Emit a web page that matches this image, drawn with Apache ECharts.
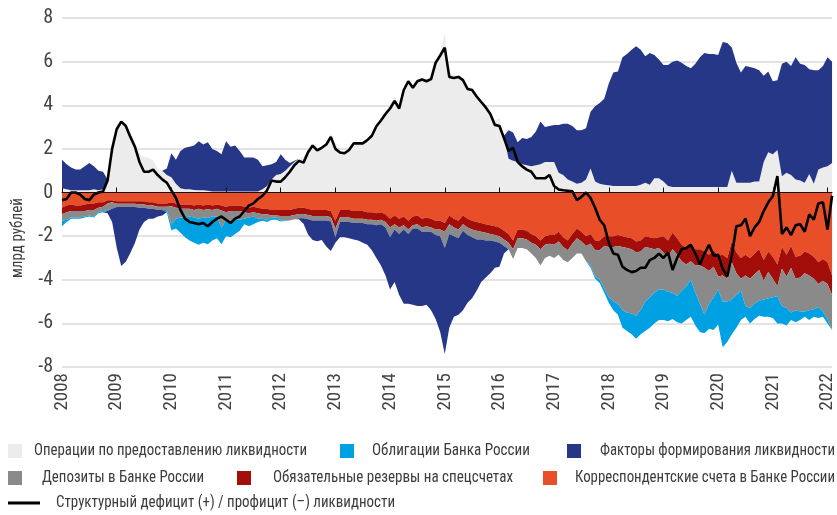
<!DOCTYPE html>
<html><head><meta charset="utf-8">
<script src="https://cdn.jsdelivr.net/npm/echarts@6/dist/echarts.min.js"></script>
<style>html,body{margin:0;padding:0;background:#fff}#c{width:837px;height:515px}</style>
</head><body><div id="c"></div>
<script>
// ---- data (monthly, starting January 2008) ----
const startYear = 2008;
const monthCount = 170;
const yTicks = [-8,-6,-4,-2,0,2,4,6,8];

// Structural deficit (+) / surplus (-)
const deficit = [
 -0.35,-0.3,0.0,0.0,-0.1,-0.3,-0.35,-0.1,0.0,0.05,0.55,2.0,
 2.9,3.25,3.05,2.55,2.1,1.4,0.95,0.95,1.05,0.8,0.6,0.45,
 0.1,-0.25,-0.8,-1.2,-1.35,-1.4,-1.45,-1.4,-1.55,-1.35,-1.2,-1.1,
 -1.25,-1.4,-1.2,-1.1,-0.85,-0.6,-0.5,-0.3,-0.15,0.1,0.55,0.5,
 0.5,0.7,0.95,1.25,1.45,1.37,1.85,2.15,1.93,2.05,2.2,2.55,
 2.0,1.83,1.8,1.95,2.25,2.25,2.25,2.4,2.6,3.04,3.3,3.6,
 3.85,4.2,3.85,4.7,5.1,4.8,5.1,5.18,5.1,5.2,5.95,6.28,
 6.64,5.3,5.25,5.3,5.15,4.75,4.7,4.4,4.15,3.9,3.6,3.1,
 3.05,2.5,1.9,2.05,1.4,1.2,1.05,0.95,0.65,0.65,0.65,0.8,
 0.3,0.14,0.1,0.08,0.05,-0.35,-0.2,0.0,-0.25,-0.7,-1.25,-1.5,
 -2.3,-2.8,-2.85,-3.4,-3.55,-3.65,-3.6,-3.45,-3.45,-3.1,-3.0,-2.8,
 -3.0,-2.75,-3.55,-3.0,-2.6,-2.55,-2.4,-2.8,-3.3,-2.8,-2.4,-2.9,
 -2.85,-3.5,-3.84,-2.9,-1.55,-1.5,-1.2,-2.0,-1.6,-1.35,-0.85,-0.45,
 -0.17,0.75,-1.9,-1.6,-1.95,-1.5,-1.45,-1.8,-1.0,-1.25,-0.5,-0.45,
 -1.7,-0.15
];
// Liquidity provision operations
const liquidityOps = [
 0.2,0.15,0.1,0.1,0.1,0.1,0.1,0.15,0.1,0.15,0.6,2.05,
 2.95,3.25,3.1,2.75,2.3,1.8,1.6,1.6,1.45,1.1,1.0,0.8,
 0.7,0.4,0.2,0.15,0.15,0.12,0.1,0.1,0.08,0.05,0.05,0.05,
 0.05,0.05,0.05,0.05,0.05,0.05,0.05,0.05,0.15,0.3,0.6,0.8,
 0.85,1.0,1.2,1.4,1.55,1.6,1.95,2.25,2.05,2.1,2.3,2.7,
 2.3,1.9,1.85,2.0,2.3,2.3,2.3,2.45,2.7,3.1,3.4,3.7,
 4.05,4.4,3.95,4.8,5.2,4.9,5.2,5.25,5.2,5.3,6.0,6.4,
 7.3,5.5,5.4,5.4,5.25,4.85,4.8,4.5,4.25,4.0,3.75,3.3,
 3.4,2.6,1.55,1.45,1.4,1.3,1.25,1.2,1.25,1.3,1.4,1.4,
 1.4,0.9,0.8,0.6,0.5,0.4,0.45,0.6,1.1,0.5,0.4,0.35,
 0.33,0.3,0.3,0.3,0.3,0.3,0.3,0.35,0.45,0.35,0.65,0.65,
 0.5,0.3,0.25,0.25,0.25,0.25,0.25,0.25,0.25,0.25,0.25,0.25,
 0.25,0.25,0.25,1.0,0.45,0.45,0.45,0.45,0.5,0.5,1.4,1.85,
 1.75,1.95,0.75,0.9,0.8,0.6,0.55,0.45,0.85,0.4,1.05,1.15,
 1.2,1.35
];
// Liquidity factors (signed)
const liquidityFactors = [
 1.3,1.15,1.05,0.95,0.95,1.1,1.25,1.05,0.9,0.8,-0.1,-0.6,
 -1.85,-2.7,-2.5,-2.1,-1.65,-1.0,-0.65,-0.45,-0.45,-0.3,-0.25,0.3,
 1.1,1.1,1.7,1.9,1.95,2.03,2.25,2.1,2.22,1.95,1.85,1.7,
 2.3,2.05,2.1,1.85,1.55,1.55,1.55,1.45,1.05,0.95,0.7,0.6,
 0.9,0.5,0.15,0.05,-0.05,-0.25,-0.7,-0.9,-0.95,-0.9,-1.2,-1.35,
 -0.25,-0.7,-0.7,-0.75,-0.75,-0.8,-0.9,-0.95,-1.2,-1.5,-1.9,-2.2,
 -2.4,-2.4,-2.8,-3.4,-3.2,-3.5,-3.55,-3.4,-3.35,-3.6,-3.85,-4.4,
 -4.85,-4.3,-3.7,-3.5,-3.65,-3.1,-2.8,-2.35,-1.95,-1.7,-1.5,-1.2,
 -1.1,-0.35,1.3,1.3,0.9,1.2,1.2,1.35,1.55,1.95,1.6,1.65,
 1.7,2.2,2.35,2.55,2.55,2.45,2.4,2.35,2.6,3.45,3.7,3.95,
 4.67,5.2,5.25,5.9,6.05,6.25,6.4,6.2,5.8,6.05,5.65,5.45,
 5.35,5.55,5.75,5.8,5.7,5.55,5.45,5.65,5.95,6.15,6.1,6.1,
 6.05,6.65,6.6,5.65,5.5,5.05,5.35,5.3,5.2,5.1,3.95,3.7,
 3.35,3.2,5.15,5.1,5.0,5.6,5.35,5.4,4.8,5.2,4.55,4.65,
 5.0,4.65
];
// Correspondent accounts
const corrAccounts = [
 -0.7,-0.6,-0.55,-0.6,-0.6,-0.55,-0.5,-0.5,-0.45,-0.45,-0.35,-0.35,
 -0.4,-0.4,-0.4,-0.4,-0.4,-0.4,-0.4,-0.45,-0.45,-0.5,-0.5,-0.5,
 -0.45,-0.5,-0.55,-0.55,-0.55,-0.6,-0.55,-0.6,-0.55,-0.6,-0.55,-0.6,
 -0.65,-0.6,-0.6,-0.6,-0.65,-0.7,-0.65,-0.7,-0.75,-0.75,-0.8,-0.8,
 -0.8,-0.8,-0.8,-0.75,-0.7,-0.7,-0.75,-0.8,-0.8,-0.8,-0.8,-0.85,
 -1.3,-0.8,-0.8,-0.8,-0.85,-0.85,-0.85,-0.9,-0.9,-0.95,-0.9,-1.0,
 -1.2,-1.05,-1.2,-1.1,-1.3,-1.1,-1.05,-1.2,-1.15,-1.2,-1.3,-1.3,
 -1.4,-1.05,-1.2,-1.3,-1.05,-1.2,-1.3,-1.35,-1.4,-1.45,-1.5,-1.55,
 -1.6,-1.75,-1.9,-2.2,-1.7,-1.7,-1.75,-1.9,-2.0,-2.2,-2.0,-1.95,
 -1.95,-1.8,-2.05,-2.2,-1.9,-1.65,-1.8,-2.0,-1.9,-2.2,-2.2,-2.0,
 -2.0,-2.0,-1.95,-2.0,-2.05,-2.1,-2.25,-2.2,-2.0,-2.05,-2.1,-2.05,
 -2.0,-2.2,-1.85,-2.1,-2.4,-2.55,-2.4,-2.6,-2.6,-2.7,-2.85,-2.65,
 -2.9,-2.85,-3.0,-2.25,-2.75,-3.0,-2.85,-3.0,-2.8,-2.6,-3.1,-2.7,
 -2.95,-3.3,-2.5,-2.85,-2.45,-2.95,-2.9,-2.7,-2.8,-2.95,-3.2,-3.05,
 -3.2,-3.8
];
// Required reserves on special accounts
const requiredReserves = [
 -0.3,-0.3,-0.3,-0.25,-0.25,-0.3,-0.3,-0.3,-0.25,-0.2,-0.15,-0.1,
 -0.12,-0.12,-0.12,-0.12,-0.12,-0.15,-0.15,-0.15,-0.15,-0.15,-0.15,-0.15,
 -0.18,-0.2,-0.2,-0.2,-0.2,-0.2,-0.2,-0.2,-0.22,-0.2,-0.2,-0.22,
 -0.25,-0.25,-0.25,-0.25,-0.25,-0.25,-0.25,-0.25,-0.25,-0.25,-0.25,-0.25,
 -0.28,-0.28,-0.28,-0.28,-0.28,-0.28,-0.28,-0.28,-0.28,-0.28,-0.28,-0.28,
 -0.35,-0.35,-0.35,-0.35,-0.35,-0.35,-0.35,-0.35,-0.35,-0.35,-0.35,-0.35,
 -0.4,-0.4,-0.4,-0.4,-0.4,-0.4,-0.4,-0.4,-0.4,-0.4,-0.4,-0.4,
 -0.4,-0.4,-0.4,-0.4,-0.4,-0.4,-0.4,-0.4,-0.4,-0.4,-0.4,-0.4,
 -0.4,-0.4,-0.4,-0.4,-0.4,-0.4,-0.4,-0.4,-0.4,-0.4,-0.4,-0.4,
 -0.45,-0.45,-0.45,-0.45,-0.45,-0.45,-0.45,-0.45,-0.45,-0.45,-0.45,-0.45,
 -0.5,-0.5,-0.5,-0.5,-0.5,-0.5,-0.5,-0.5,-0.5,-0.5,-0.5,-0.5,
 -0.75,-0.75,-0.75,-0.75,-0.75,-0.75,-0.75,-0.75,-0.75,-0.75,-0.75,-0.75,
 -0.95,-0.95,-0.95,-0.95,-0.95,-0.95,-0.95,-0.95,-0.95,-0.95,-0.95,-0.95,
 -1.0,-1.0,-1.0,-1.0,-1.0,-1.0,-1.0,-1.0,-1.0,-1.0,-1.0,-1.0,
 -1.0,-0.9
];
// Deposits with the Bank of Russia
const deposits = [
 -0.3,-0.35,-0.3,-0.3,-0.3,-0.25,-0.25,-0.3,-0.2,-0.2,-0.3,-0.3,
 -0.15,-0.15,-0.15,-0.15,-0.15,-0.15,-0.15,-0.15,-0.15,-0.15,-0.15,-0.15,
 -0.85,-0.5,-0.4,-0.4,-0.35,-0.35,-0.45,-0.35,-0.4,-0.3,-0.35,-0.8,
 -0.35,-0.45,-0.4,-0.4,-0.3,-0.2,-0.2,-0.25,-0.2,-0.25,-0.1,-0.1,
 -0.2,-0.2,-0.2,-0.2,-0.2,-0.2,-0.2,-0.2,-0.2,-0.2,-0.2,-0.2,
 -0.4,-0.2,-0.2,-0.2,-0.2,-0.2,-0.2,-0.2,-0.2,-0.2,-0.2,-0.25,
 -0.45,-0.25,-0.3,-0.2,-0.2,-0.15,-0.2,-0.2,-0.25,-0.2,-0.25,-0.3,
 -0.75,-0.45,-0.4,-0.4,-0.3,-0.35,-0.35,-0.4,-0.35,-0.35,-0.3,-0.3,
 -0.3,-0.3,-0.3,-0.45,-0.45,-0.45,-0.45,-0.5,-0.6,-0.75,-0.6,-0.55,
 -0.6,-0.6,-0.6,-0.55,-0.65,-0.7,-0.55,-0.7,-1.0,-1.2,-1.35,-1.95,
 -2.3,-2.5,-2.65,-2.9,-2.95,-2.95,-2.9,-2.7,-2.5,-2.25,-2.0,-1.9,
 -1.7,-1.6,-2.0,-1.9,-1.35,-1.0,-0.85,-1.25,-1.75,-2.15,-1.5,-1.4,
 -0.6,-1.2,-1.05,-1.7,-1.0,-0.55,-1.4,-1.35,-1.35,-1.4,-0.85,-1.2,
 -0.85,-0.45,-1.7,-1.45,-2.05,-1.45,-1.55,-1.75,-1.6,-1.4,-1.05,-1.4,
 -1.6,-1.6
];
// Bank of Russia bonds
const cbrBonds = [
 -0.25,-0.1,-0.05,-0.05,-0.05,-0.05,-0.05,-0.05,-0.05,-0.05,-0.05,0,
 0,0,0,0,0,0,0,0,0,0,0,-0.1,
 -0.25,-0.45,-0.7,-0.9,-1.1,-1.15,-1.2,-1.15,-1.2,-1.1,-1.0,-0.75,
 -0.75,-0.75,-0.65,-0.5,-0.25,-0.4,-0.35,-0.15,-0.1,-0.1,-0.1,-0.1,
 -0.05,-0.03,0,0,0,0,0,0,0,0,0,0,
 0,0,0,0,0,0,0,0,0,0,0,0,
 0,0,0,0,0,0,0,0,0,0,0,0,
 0,0,0,0,0,0,0,0,0,0,0,0,
 0,0,0,0,0,0,0,0,0,0,0,0,
 0,0,0,0,0,0,0,0,-0.1,-0.1,-0.15,-0.2,
 -0.25,-0.4,-0.5,-0.8,-0.85,-0.95,-1.05,-1.1,-1.35,-1.4,-1.4,-1.4,
 -1.4,-1.35,-1.2,-1.2,-1.5,-1.55,-1.7,-1.5,-1.3,-0.85,-1.15,-1.5,
 -1.6,-2.1,-1.85,-1.6,-1.5,-1.35,-0.5,-0.7,-0.7,-0.7,-0.8,-0.85,
 -0.95,-1.25,-0.8,-0.8,-0.35,-0.55,-0.4,-0.25,-0.45,-0.35,-0.5,-0.25,
 -0.2,0
];

const names = {
  ops: 'Операции по предоставлению ликвидности',
  bonds: 'Облигации Банка России',
  factors: 'Факторы формирования ликвидности',
  dep: 'Депозиты в Банке России',
  res: 'Обязательные резервы на спецсчетах',
  corr: 'Корреспондентские счета в Банке России',
  line: 'Структурный дефицит (+) / профицит (–) ликвидности'
};
const colors = {
  ops: '#ececec', bonds: '#00a1e2', factors: '#253786',
  dep: '#8a8a8a', res: '#a30e0b', corr: '#e84e27', line: '#000000'
};

// ---- build ----
const FONT = "'Roboto Condensed','Liberation Sans Narrow','Arial Narrow','DejaVu Sans Condensed',Roboto,sans-serif";
const months = Array.from({ length: monthCount }, (_, i) =>
  (startYear + Math.floor(i / 12)) + '-' + String(i % 12 + 1).padStart(2, '0'));
const isJanuary = (idx, v) => String(v).slice(5) === '01';

function area(name, arr, color, stack) {
  return {
    type: 'line', name, stack, data: arr, symbol: 'none', showSymbol: false,
    lineStyle: { width: 0, color }, itemStyle: { color }, areaStyle: { color, opacity: 1 },
    emphasis: { disabled: true }, silent: true, z: 2
  };
}

const factorsPos = liquidityFactors.map(v => v > 0 ? v : 0);
const factorsNeg = liquidityFactors.map(v => v < 0 ? v : 0);

const series = [
  area(names.ops, liquidityOps, colors.ops, 'pos'),
  area(names.factors, factorsPos, colors.factors, 'pos'),
  area(names.corr, corrAccounts, colors.corr, 'neg'),
  area(names.res, requiredReserves, colors.res, 'neg'),
  area(names.dep, deposits, colors.dep, 'neg'),
  area(names.bonds, cbrBonds, colors.bonds, 'neg'),
  area(names.factors, factorsNeg, colors.factors, 'neg'),
  {
    type: 'line', name: names.line, data: deficit, symbol: 'none', showSymbol: false,
    lineStyle: { width: 2.6, color: colors.line }, itemStyle: { color: colors.line },
    emphasis: { disabled: true }, silent: true, z: 5
  }
];

// legend: icons via legend components, labels as condensed text
const legendItems = [
  { key: 'ops', x: 8, y: 451, tx: 34, tw: 273 },
  { key: 'bonds', x: 340, y: 451, tx: 372, tw: 158 },
  { key: 'factors', x: 567, y: 451, tx: 600, tw: 235 },
  { key: 'dep', x: 8, y: 478, tx: 42, tw: 162 },
  { key: 'res', x: 237, y: 478, tx: 273, tw: 240 },
  { key: 'corr', x: 543, y: 478, tx: 575, tw: 260 },
  { key: 'line', x: 8, y: 503, tx: 56, tw: 339 }
];
const legends = legendItems.map(it => {
  const isLine = it.key === 'line';
  const w = isLine ? 32 : 14, h = isLine ? 3 : 14;
  return {
    data: [{ name: names[it.key], icon: 'rect' }],
    left: it.x, top: it.y - h / 2, itemWidth: w, itemHeight: h, padding: 0,
    formatter: () => '', selectedMode: false, textStyle: { fontSize: 1 }
  };
});

const mctx = document.createElement('canvas').getContext('2d');
function fitText(text, x, y, width, size, extra) {
  const font = size + 'px ' + FONT;
  mctx.font = font;
  const w = mctx.measureText(text).width;
  return Object.assign({
    type: 'text', x, y, scaleX: width / w, silent: true,
    style: { text, font, fill: '#3c3c3c', textAlign: 'left', textVerticalAlign: 'middle', align: 'left', verticalAlign: 'middle' }
  }, extra || {});
}
const graphics = legendItems.map(it => fitText(names[it.key], it.tx, it.y, it.tw, 17));
const yName = fitText('млрд рублей', 18, 238, 80, 16, { rotation: Math.PI / 2 });
yName.style.textAlign = 'center'; yName.style.align = 'center';
graphics.push(yName);

const chart = echarts.init(document.getElementById('c'), null, { renderer: 'canvas' });
chart.setOption({
  animation: false,
  backgroundColor: '#ffffff',
  grid: { left: 62, right: 1, top: 18, bottom: 148, containLabel: false },
  legend: legends,
  graphic: { elements: graphics },
  xAxis: [
    {
      type: 'category', data: months, boundaryGap: false,
      axisLine: { show: true, onZero: true, lineStyle: { color: '#111', width: 1 } },
      axisTick: { show: true, inside: true, length: 5, interval: isJanuary, lineStyle: { color: '#111', width: 1 } },
      axisLabel: { show: false }, splitLine: { show: false }, z: 10
    },
    {
      type: 'category', data: months, boundaryGap: false, position: 'bottom',
      axisLine: { show: false, onZero: false }, axisTick: { show: false }, splitLine: { show: false },
      axisLabel: { show: true, rotate: 90, margin: 6, interval: isJanuary, fontFamily: FONT, fontSize: 19, color: '#444',
        formatter: v => String(v).slice(0, 4) }
    }
  ],
  yAxis: {
    type: 'value', min: -8, max: 8, interval: 2,
    axisLine: { show: false }, axisTick: { show: false },
    axisLabel: { margin: 9, fontFamily: FONT, fontSize: 20, color: '#444' },
    splitLine: { show: true, lineStyle: { color: '#dadada', width: 1.5 } }
  },
  series
});
</script>
</body></html>
